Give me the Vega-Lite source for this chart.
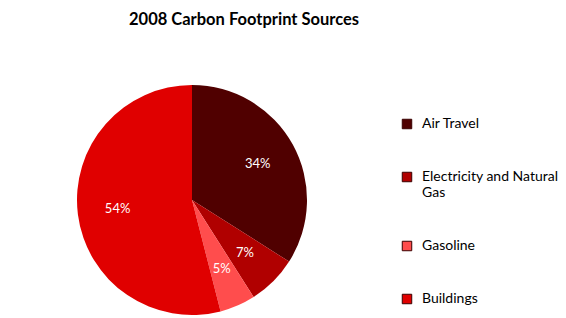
{
  "$schema": "https://vega.github.io/schema/vega-lite/v6.json",
  "width": 384,
  "height": 236,
  "autosize": {"type": "none"},
  "padding": {"top": 82, "left": 0, "right": 182, "bottom": 0},
  "background": "white",
  "title": {
    "text": "2008 Carbon Footprint Sources",
    "font": "Lato",
    "fontSize": 16.5,
    "fontWeight": "bold",
    "color": "#000000",
    "anchor": "start",
    "dx": 129,
    "offset": 54
  },
  "data": {
    "values": [
      {"source": "Air Travel", "value": 34, "label": "34%", "order": 1},
      {"source": "Electricity and Natural Gas", "value": 7, "label": "7%", "order": 2},
      {"source": "Gasoline", "value": 5, "label": "5%", "order": 3},
      {"source": "Buildings", "value": 54, "label": "54%", "order": 4}
    ]
  },
  "encoding": {
    "theta": {"field": "value", "type": "quantitative", "stack": true},
    "order": {"field": "order", "type": "quantitative"},
    "color": {
      "field": "source",
      "type": "nominal",
      "scale": {
        "domain": ["Air Travel", "Electricity and Natural Gas", "Gasoline", "Buildings"],
        "range": ["#500000", "#B00000", "#FF4D4D", "#E00000"]
      },
      "legend": {
        "title": null,
        "orient": "none",
        "legendX": 400,
        "legendY": 35,
        "symbolType": "square",
        "symbolSize": 90,
        "symbolStrokeColor": "#3a0000",
        "symbolStrokeWidth": 1,
        "labelFont": "Lato",
        "labelFontSize": 14,
        "labelColor": "#000000",
        "labelOffset": 8,
        "labelLimit": 200,
        "rowPadding": 39,
        "labelExpr": "datum.label == 'Electricity and Natural Gas' ? ['Electricity and Natural', 'Gas'] : datum.label"
      }
    }
  },
  "layer": [
    {
      "mark": {"type": "arc", "outerRadius": 115}
    },
    {
      "mark": {"type": "text", "radius": 75, "font": "Lato", "fontSize": 13, "color": "white"},
      "encoding": {
        "text": {"field": "label", "type": "nominal"},
        "color": {"value": "white"}
      }
    }
  ]
}
